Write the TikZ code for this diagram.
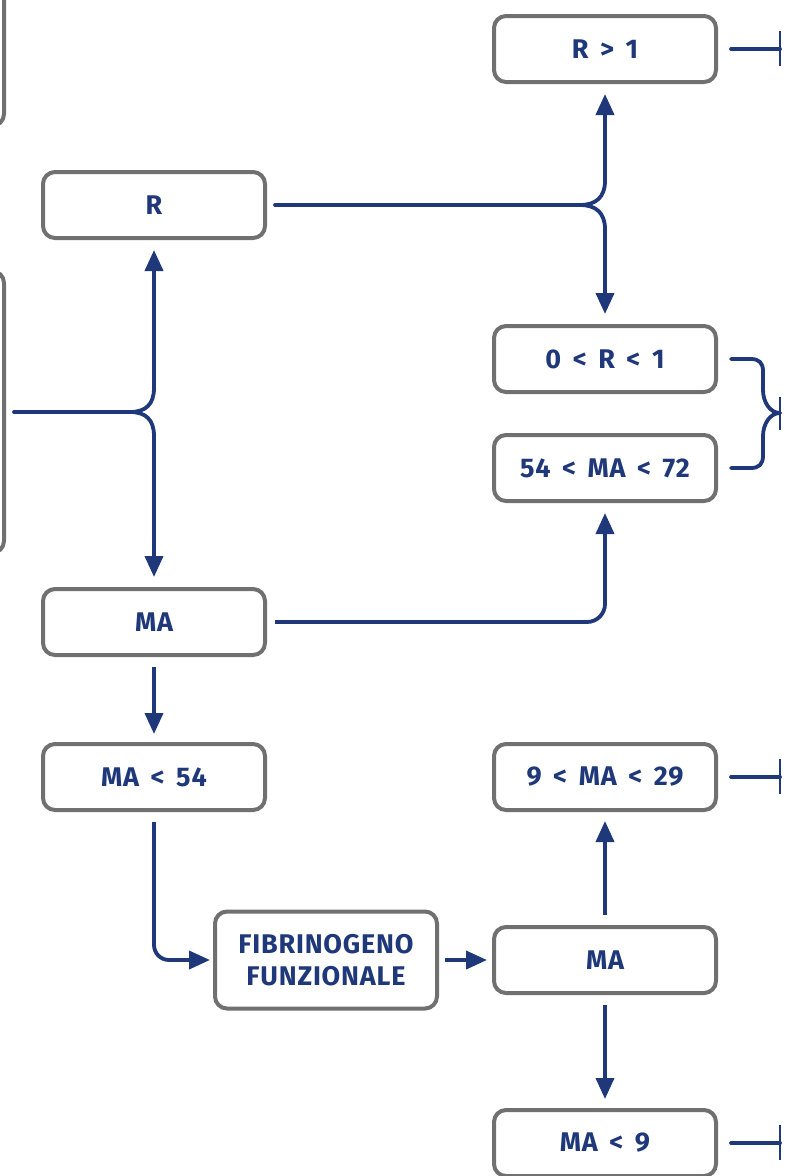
\documentclass[tikz,border=0pt]{standalone}
\usepackage{fontspec}
\setmainfont{Fira Sans}[LetterSpace=3,WordSpace=1.6]
\usetikzlibrary{arrows.meta}
\definecolor{navy}{RGB}{31,56,122}
\definecolor{boxgray}{RGB}{112,112,112}
\tikzset{
  box/.style={draw=boxgray, line width=4pt, rounded corners=12pt, fill=white,
    minimum width=222pt, minimum height=66pt, inner sep=0pt,
    text=navy, font=\fontsize{27}{32}\selectfont\bfseries, align=center},
  conn/.style={draw=navy, line width=3.8pt, line cap=round},
  arr/.style={conn, -{Triangle[length=21pt,width=18pt]}, line cap=butt},
  tbar/.style={draw=navy, line width=2pt}
}
\begin{document}
\begin{tikzpicture}[x=1pt,y=-1pt]
\clip (0,0) rectangle (796,1176);
\fill[white] (0,0) rectangle (796,1176);
% partial boxes at left edge
\node[box, minimum width=224pt, minimum height=156pt] (leftA) at (-108,48) {};
\node[box, minimum width=224pt, minimum height=282pt] (leftB) at (-108,412) {};
% boxes
\node[box] (r1) at (605,49) {R > 1};
\node[box] (R) at (154,205) {R};
\node[box] (r01) at (605,359) {0 < R < 1};
\node[box] (ma5472) at (605,468) {54 < MA < 72};
\node[box] (MA) at (154,622) {MA};
\node[box] (ma54) at (154,777) {MA < 54};
\node[box, minimum height=97pt] (fib) at (326,960) {FIBRINOGENO\\FUNZIONALE};
\node[box] (ma2) at (605,960) {MA};
\node[box] (ma929) at (605,777) {9 < MA < 29};
\node[box] (ma9) at (605,1143) {MA < 9};
% left brace
\coordinate (bl) at (130,412);
\draw[conn] ([xshift=8pt]leftB.east) -- (bl);
\draw[arr, shorten >=10pt] (bl) .. controls (146,412) and (154,404) .. (154,388) -- (R.south);
\draw[arr, shorten >=10pt] (bl) .. controls (146,412) and (154,420) .. (154,436) -- (MA.north);
% top right brace
\coordinate (bt) at (580,205);
\draw[conn] ([xshift=8pt]R.east) -- (bt);
\draw[arr, shorten >=10pt] (bt) .. controls (596,205) and (605,197) .. (605,181) -- (r1.south);
\draw[arr, shorten >=10pt] (bt) .. controls (596,205) and (605,213) .. (605,229) -- (r01.north);
% MA to 54<MA<72
\draw[arr, shorten >=10pt, rounded corners=18pt] ([xshift=8pt]MA.east) -| (ma5472.south);
% MA to MA<54
\draw[arr, shorten <=10pt, shorten >=8pt] (MA.south) -- (ma54.north);
% MA<54 to fib
\draw[arr, shorten <=10pt, shorten >=3pt, rounded corners=15pt] (ma54.south) |- (fib.west);
% fib to MA
\draw[arr, shorten <=6pt, shorten >=5pt] (fib.east) -- (ma2.west);
% MA to 9<MA<29 and MA<9
\draw[arr, shorten <=10pt, shorten >=9pt] (ma2.north) -- (ma929.south);
\draw[arr, shorten <=10pt, shorten >=9pt] (ma2.south) -- (ma9.north);
% terminators
\coordinate (t1) at (780,49);
\coordinate (t2) at (780,777);
\coordinate (t3) at (780,1143);
\draw[conn] ([xshift=13pt]r1.east) -- (t1);
\draw[conn] ([xshift=13pt]ma929.east) -- (t2);
\draw[conn] ([xshift=13pt]ma9.east) -- (t3);
\draw[tbar] (780,31) -- (780,66);
\draw[tbar] (780,759) -- (780,794);
\draw[tbar] (780,1125) -- (780,1160);
% right brace
\coordinate (bb) at (780,413);
\draw[conn] ([xshift=13pt]r01.east) -- (751,359) .. controls (759,359) and (763,363) .. (763,371)
  -- (763,390) .. controls (763,402) and (770,413) .. (bb);
\draw[conn] ([xshift=13pt]ma5472.east) -- (751,468) .. controls (759,468) and (763,464) .. (763,456)
  -- (763,436) .. controls (763,424) and (770,413) .. (bb);
\draw[tbar] (780,397) -- (780,430);
\end{tikzpicture}
\end{document}
